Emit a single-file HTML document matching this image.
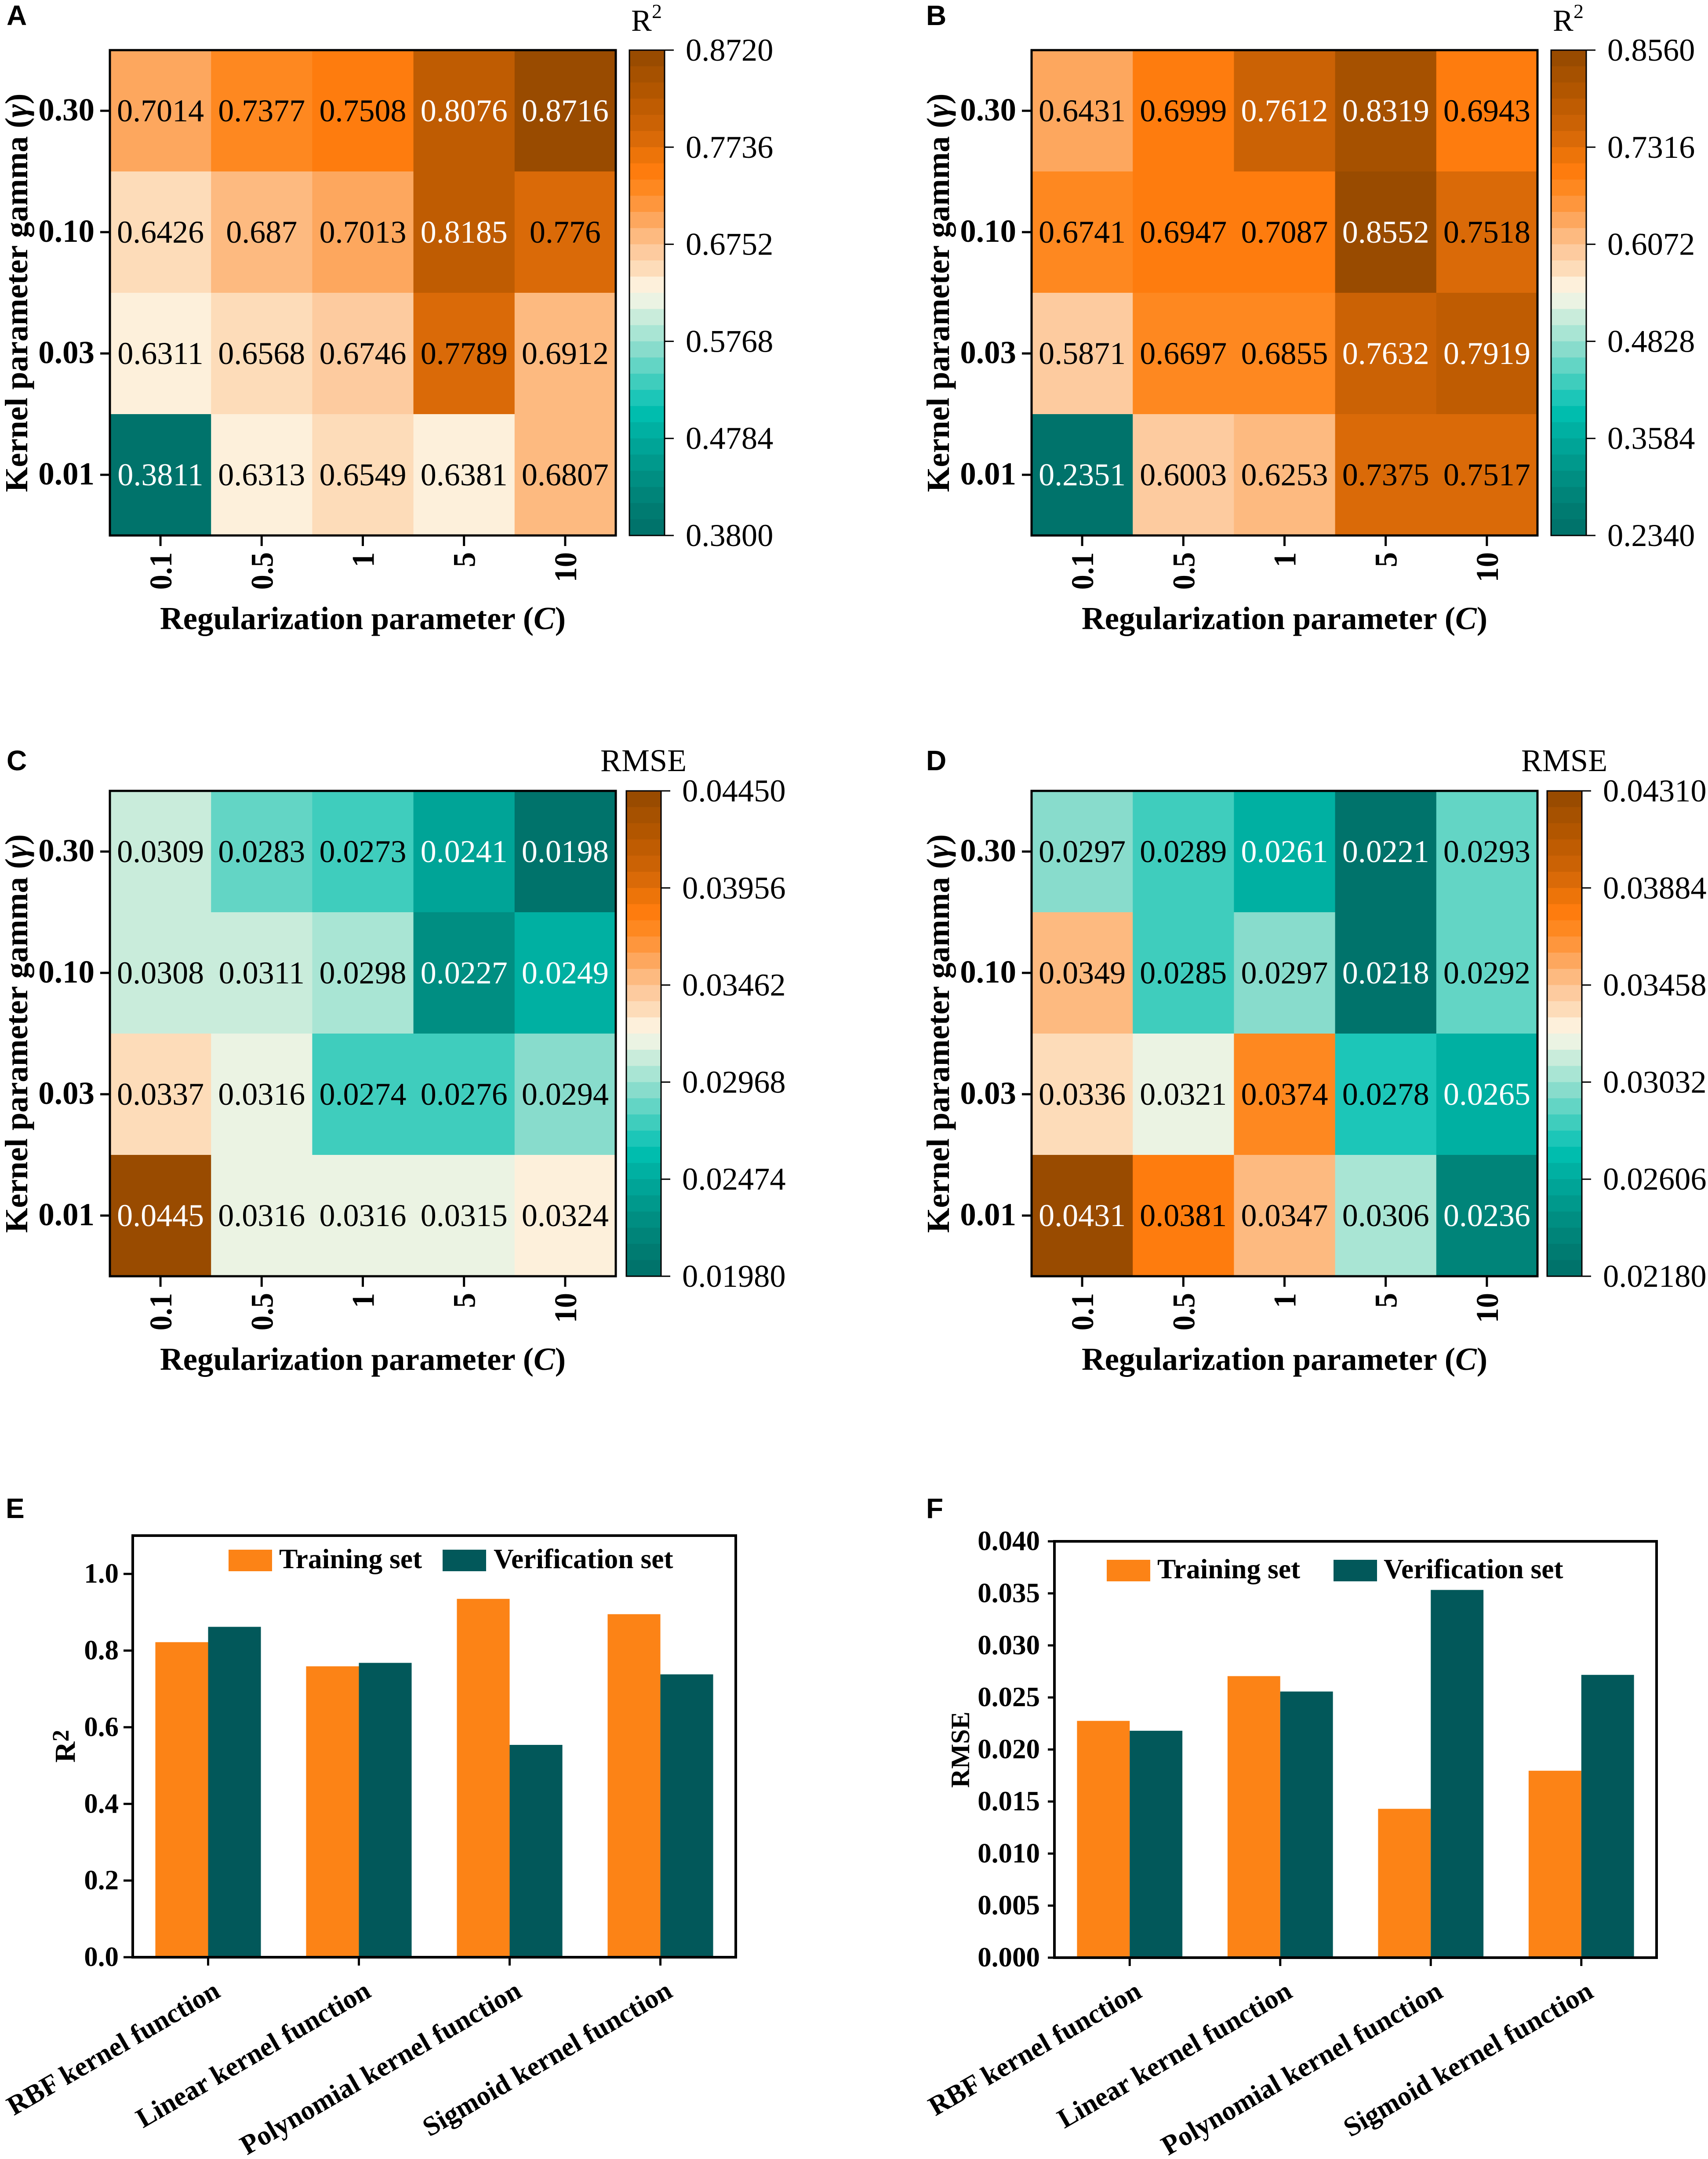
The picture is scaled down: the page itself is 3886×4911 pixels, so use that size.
<!DOCTYPE html>
<html lang="en">
<head>
<meta charset="utf-8">
<title>SVR kernel parameter heatmaps and kernel comparison</title>
<style>
html,body{margin:0;padding:0;background:#fff}
svg{display:block}
text{font-family:"Liberation Serif",serif;fill:#000}
.letter{font-family:"Liberation Sans",sans-serif;font-weight:700;font-size:64px}
.bold{font-weight:700}
</style>
</head>
<body>
<svg id="figure" xmlns="http://www.w3.org/2000/svg" width="3886" height="4911" viewBox="0 0 3886 4911"></svg>
<script>
// ---------- Data ----------
const costCategories = ['0.1', '0.5', '1', '5', '10'];
const gammaCategories = ['0.30', '0.10', '0.03', '0.01'];

const heatValuesA = [
  [0.7014, 0.7377, 0.7508, 0.8076, 0.8716],
  [0.6426, 0.687, 0.7013, 0.8185, 0.776],
  [0.6311, 0.6568, 0.6746, 0.7789, 0.6912],
  [0.3811, 0.6313, 0.6549, 0.6381, 0.6807]
];
const heatValuesB = [
  [0.6431, 0.6999, 0.7612, 0.8319, 0.6943],
  [0.6741, 0.6947, 0.7087, 0.8552, 0.7518],
  [0.5871, 0.6697, 0.6855, 0.7632, 0.7919],
  [0.2351, 0.6003, 0.6253, 0.7375, 0.7517]
];
const heatValuesC = [
  [0.0309, 0.0283, 0.0273, 0.0241, 0.0198],
  [0.0308, 0.0311, 0.0298, 0.0227, 0.0249],
  [0.0337, 0.0316, 0.0274, 0.0276, 0.0294],
  [0.0445, 0.0316, 0.0316, 0.0315, 0.0324]
];
const heatValuesD = [
  [0.0297, 0.0289, 0.0261, 0.0221, 0.0293],
  [0.0349, 0.0285, 0.0297, 0.0218, 0.0292],
  [0.0336, 0.0321, 0.0374, 0.0278, 0.0265],
  [0.0431, 0.0381, 0.0347, 0.0306, 0.0236]
];

const colorbarTicksA = ['0.8720', '0.7736', '0.6752', '0.5768', '0.4784', '0.3800'];
const colorbarTicksB = ['0.8560', '0.7316', '0.6072', '0.4828', '0.3584', '0.2340'];
const colorbarTicksC = ['0.04450', '0.03956', '0.03462', '0.02968', '0.02474', '0.01980'];
const colorbarTicksD = ['0.04310', '0.03884', '0.03458', '0.03032', '0.02606', '0.02180'];

// 30-step diverging colormap, highest value first
const colormap = ['#994b00','#a65100','#b25600','#bf5c02','#cb6205','#da6a08','#ed7409','#fe7c0e',
  '#fe8820','#fe963d','#fda75e','#fdba80','#fdcb9f','#fddcb9','#fdf0db','#ebf3e3',
  '#c9ecdb','#a9e5d4','#88dccc','#63d5c5','#3fcdbd','#1cc6b8','#00bdae','#00b0a2',
  '#00a497','#00998c','#008e82','#008479','#007b71','#00736b'];

const kernelCategories = ['RBF kernel function', 'Linear kernel function', 'Polynomial kernel function', 'Sigmoid kernel function'];
const seriesNames = ['Training set', 'Verification set'];
const r2Training = [0.822, 0.759, 0.935, 0.895];
const r2Verification = [0.862, 0.768, 0.554, 0.738];
const rmseTraining = [0.02275, 0.02705, 0.0143, 0.01796];
const rmseVerification = [0.0218, 0.02557, 0.03533, 0.02717];
const r2TickLabels = ['0.0', '0.2', '0.4', '0.6', '0.8', '1.0'];
const rmseTickLabels = ['0.000', '0.005', '0.010', '0.015', '0.020', '0.025', '0.030', '0.035', '0.040'];

// ---------- Helpers ----------
const NS = 'http://www.w3.org/2000/svg';
const root = document.getElementById('figure');
const ORANGE = '#fc8316';
const TEAL = '#02585a';

function el(tag, attrs, parent) {
  const node = document.createElementNS(NS, tag);
  for (const k in attrs) node.setAttribute(k, attrs[k]);
  (parent || root).appendChild(node);
  return node;
}
function linear(d0, d1, r0, r1) {
  return function (v) { return r0 + (v - d0) / (d1 - d0) * (r1 - r0); };
}

function panelLetter(letter, x, y) {
  const t = el('text', { x: x, y: y, class: 'letter' });
  t.textContent = letter;
  
  
}

function colorIndex(v, lo, hi) {
  const n = colormap.length;
  let band = Math.floor((v - lo) / (hi - lo) * n);
  band = Math.max(0, Math.min(n - 1, band));
  return n - 1 - band;
}

function drawHeatmap(p) {
  const g = el('g', {});
  
  

  const tickValues = p.ticks.map(parseFloat);
  const hi = Math.max.apply(null, tickValues);
  const lo = Math.min.apply(null, tickValues);
  const nRows = gammaCategories.length;
  const nCols = costCategories.length;
  const sx = linear(0, nCols, p.x, p.x + p.w);
  const sy = linear(0, nRows, p.y, p.y + p.h);

  // cells
  p.values.forEach(function (row, r) {
    row.forEach(function (v, c) {
      const rect = el('rect', {
        x: sx(c), y: sy(r), width: sx(c + 1) - sx(c) + 0.5, height: sy(r + 1) - sy(r) + 0.5,
        fill: colormap[colorIndex(v, lo, hi)]
      }, g);
      
      
    });
  });
  // annotations
  p.values.forEach(function (row, r) {
    row.forEach(function (v, c) {
      const norm = (v - lo) / (hi - lo);
      const t = el('text', {
        x: sx(c + 0.5), y: sy(r + 0.5) + 24, 'font-size': 72, 'text-anchor': 'middle'
      }, g);
      t.style.fill = (norm < 0.25 || norm > 0.84) ? '#fff' : '#000';
      t.textContent = String(v);
      
      
    });
  });
  // frame
  const frame = el('rect', { x: p.x, y: p.y, width: p.w, height: p.h, fill: 'none', stroke: '#000', 'stroke-width': 5 }, g);
  
  

  // x ticks
  costCategories.forEach(function (label, c) {
    const cx = sx(c + 0.5);
    const tick = el('line', { x1: cx, x2: cx, y1: p.y + p.h, y2: p.y + p.h + 24, stroke: '#000', 'stroke-width': 5 }, g);
    
    
    const t = el('text', {
      class: 'bold', 'font-size': 72, 'text-anchor': 'end',
      transform: 'translate(' + (cx + 25) + ',' + (p.y + p.h + 38) + ') rotate(-90) scale(0.95,1)'
    }, g);
    t.textContent = label;
    
    
  });
  // y ticks
  gammaCategories.forEach(function (label, r) {
    const cy = sy(r + 0.5);
    const tick = el('line', { x1: p.x - 22, x2: p.x, y1: cy, y2: cy, stroke: '#000', 'stroke-width': 5 }, g);
    
    
    const t = el('text', { class: 'bold', 'font-size': 73, 'text-anchor': 'end', x: p.x - 35, y: cy + 22 }, g);
    t.textContent = label;
    
    
  });

  // axis titles
  const xt = el('text', { class: 'bold', 'font-size': 73, 'text-anchor': 'middle', x: p.x + p.w / 2, y: p.y + p.h + 213 }, g);
  
  
  xt.appendChild(document.createTextNode('Regularization parameter ('));
  const xi = el('tspan', { 'font-style': 'italic' }, xt);
  xi.textContent = 'C';
  xt.appendChild(document.createTextNode(')'));

  const yt = el('text', {
    class: 'bold', 'font-size': 73, 'text-anchor': 'middle',
    transform: 'translate(' + (p.x - 188) + ',' + (p.y + p.h / 2) + ') rotate(-90)'
  }, g);
  
  
  yt.appendChild(document.createTextNode('Kernel parameter gamma ('));
  const yi = el('tspan', { 'font-style': 'italic' }, yt);
  yi.textContent = 'γ';
  yt.appendChild(document.createTextNode(')'));

  // colorbar
  const cby = linear(lo, hi, p.y + p.h, p.y);
  const bandH = p.h / colormap.length;
  colormap.forEach(function (color, i) {
    const band = el('rect', { x: p.cbx, y: p.y + i * bandH, width: p.cbw, height: bandH + 0.5, fill: color }, g);
    
    
  });
  const cbf = el('rect', { x: p.cbx, y: p.y, width: p.cbw, height: p.h, fill: 'none', stroke: '#000', 'stroke-width': 3 }, g);
  
  
  p.ticks.forEach(function (label) {
    const ty = cby(parseFloat(label));
    const tick = el('line', { x1: p.cbx + p.cbw, x2: p.cbx + p.cbw + 21, y1: ty, y2: ty, stroke: '#000', 'stroke-width': 3 }, g);
    
    
    const t = el('text', { 'font-size': 72.5, x: p.cbx + p.cbw + 48, y: ty + 24 }, g);
    t.textContent = label;
    
    
  });
  // colorbar title
  const title = el('text', {}, g);
  
  
  if (p.metric === 'R2') {
    const a = el('tspan', { x: p.cbx + 4, y: p.y - 44, 'font-size': 70 }, title);
    a.textContent = 'R';
    const b = el('tspan', { x: p.cbx + 51, y: p.y - 73, 'font-size': 46 }, title);
    b.textContent = '2';
  } else {
    const a = el('tspan', { x: p.cbx - 59, y: p.y - 45, 'font-size': 72 }, title);
    a.textContent = 'RMSE';
  }
}

function drawBars(p) {
  const g = el('g', {});
  
  

  const sx = linear(-0.5, kernelCategories.length - 0.5, p.x, p.x + p.w);
  const sy = linear(0, p.yMax, p.y + p.h, p.y);
  const unit = sx(1) - sx(0);
  const barW = unit * 0.35;

  kernelCategories.forEach(function (name, i) {
    const cx = sx(i);
    const h1 = sy(0) - sy(p.train[i]);
    const bar1 = el('rect', { x: cx - barW, y: sy(p.train[i]), width: barW, height: h1, fill: ORANGE }, g);
    
    
    const h2 = sy(0) - sy(p.verify[i]);
    const bar2 = el('rect', { x: cx, y: sy(p.verify[i]), width: barW, height: h2, fill: TEAL }, g);
    
    

    const tick = el('line', { x1: cx, x2: cx, y1: p.y + p.h, y2: p.y + p.h + 19, stroke: '#000', 'stroke-width': 5 }, g);
    
    
    const t = el('text', {
      class: 'bold', 'font-size': 62.5, 'text-anchor': 'end',
      transform: 'translate(' + (cx + 31) + ',' + (p.y + p.h + 88) + ') rotate(-30)'
    }, g);
    t.textContent = name;
    
    
  });

  p.tickLabels.forEach(function (label) {
    const ty = sy(parseFloat(label));
    const tick = el('line', { x1: p.x - p.tickLen, x2: p.x, y1: ty, y2: ty, stroke: '#000', 'stroke-width': 5 }, g);
    
    
    const t = el('text', { class: 'bold', 'font-size': 63, 'text-anchor': 'end', x: p.labelRight, y: ty + 20 }, g);
    t.textContent = label;
    
    
  });

  const frame = el('rect', { x: p.x, y: p.y, width: p.w, height: p.h, fill: 'none', stroke: '#000', 'stroke-width': 6 }, g);
  
  

  // y axis title
  const yt = el('text', {
    class: 'bold', 'text-anchor': 'middle',
    transform: 'translate(' + p.titleX + ',' + p.titleY + ') rotate(-90)'
  }, g);
  
  
  if (p.metric === 'R2') {
    const a = el('tspan', { 'font-size': 66 }, yt);
    a.textContent = 'R';
    const b = el('tspan', { 'font-size': 54, dy: -14 }, yt);
    b.textContent = '2';
  } else {
    const a = el('tspan', { 'font-size': 60 }, yt);
    a.textContent = 'RMSE';
  }

  // legend
  const swatch1 = el('rect', { x: p.legend[0], y: p.legendY, width: 99, height: 49, fill: ORANGE }, g);
  
  
  const label1 = el('text', { class: 'bold', 'font-size': 63.5, x: p.legend[1], y: p.legendY + 42 }, g);
  label1.textContent = seriesNames[0];
  
  
  const swatch2 = el('rect', { x: p.legend[2], y: p.legendY, width: 99, height: 49, fill: TEAL }, g);
  
  
  const label2 = el('text', { class: 'bold', 'font-size': 63.5, x: p.legend[3], y: p.legendY + 42 }, g);
  label2.textContent = seriesNames[1];
  
  
}

// ---------- Panels ----------
panelLetter('A', 15, 57);
panelLetter('B', 2107, 57);
panelLetter('C', 15, 1752);
panelLetter('D', 2107, 1752);
panelLetter('E', 13, 3453);
panelLetter('F', 2107, 3453);

drawHeatmap({ id: 'a', metric: 'R2', x: 250, y: 114, w: 1151, h: 1104, cbx: 1432, cbw: 80, values: heatValuesA, ticks: colorbarTicksA });
drawHeatmap({ id: 'b', metric: 'R2', x: 2347, y: 114, w: 1151, h: 1104, cbx: 3529, cbw: 80, values: heatValuesB, ticks: colorbarTicksB });
drawHeatmap({ id: 'c', metric: 'RMSE', x: 250, y: 1799, w: 1151, h: 1104, cbx: 1425, cbw: 79, values: heatValuesC, ticks: colorbarTicksC });
drawHeatmap({ id: 'd', metric: 'RMSE', x: 2347, y: 1799, w: 1151, h: 1104, cbx: 3520, cbw: 79, values: heatValuesD, ticks: colorbarTicksD });

drawBars({
  id: 'e', metric: 'R2', x: 302, y: 3493, w: 1372, h: 959, yMax: 1.1,
  train: r2Training, verify: r2Verification, tickLabels: r2TickLabels,
  tickLen: 21, labelRight: 270, titleX: 170, titleY: 3972,
  legend: [520, 635, 1007, 1123], legendY: 3525
});
drawBars({
  id: 'f', metric: 'RMSE', x: 2399, y: 3506, w: 1370, h: 947, yMax: 0.04,
  train: rmseTraining, verify: rmseVerification, tickLabels: rmseTickLabels,
  tickLen: 15, labelRight: 2366, titleX: 2205, titleY: 3980,
  legend: [2518, 2633, 3034, 3148], legendY: 3548
});
</script>
</body>
</html>
